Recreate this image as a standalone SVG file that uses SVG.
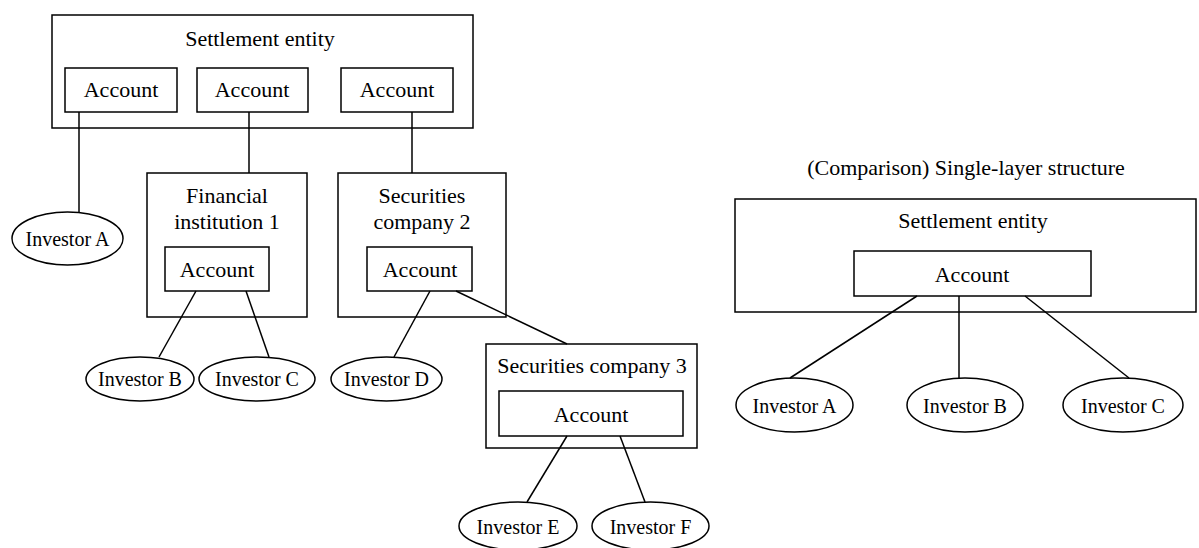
<svg xmlns="http://www.w3.org/2000/svg" width="1199" height="548" viewBox="0 0 1199 548">
<style>
.box{fill:#fff;stroke:#000;stroke-width:1.5}
ellipse{fill:#fff;stroke:#000;stroke-width:1.5}
line{stroke:#000;stroke-width:1.5}
text{font-family:"Liberation Serif","Times New Roman",serif;font-size:22px;fill:#000;text-anchor:middle}
text.inv{font-size:20px}
</style>
<rect width="1199" height="548" fill="#fff"/>
<g id="settlement">
<rect class="box" x="52" y="15" width="421" height="113"/>
<text x="260" y="46">Settlement entity</text>
</g>
<g id="acc1"><rect class="box" x="65" y="68" width="112" height="44"/><text x="121" y="97">Account</text></g>
<g id="acc2"><rect class="box" x="197" y="68" width="111" height="44"/><text x="252" y="97">Account</text></g>
<g id="acc3"><rect class="box" x="341" y="68" width="112" height="44"/><text x="397" y="97">Account</text></g>
<g id="fin1">
<rect class="box" x="147" y="173" width="160" height="144"/>
<text x="227" y="203">Financial</text>
<text x="227" y="229">institution 1</text>
<rect class="box" x="165" y="247" width="104" height="44"/>
<text x="217" y="277">Account</text>
</g>
<g id="sec2">
<rect class="box" x="338" y="173" width="168" height="144"/>
<text x="422" y="203">Securities</text>
<text x="422" y="229">company 2</text>
<rect class="box" x="367" y="247" width="105" height="44"/>
<text x="420" y="277">Account</text>
</g>
<g id="sec3">
<rect class="box" x="486" y="344" width="211" height="104"/>
<text x="592" y="373">Securities company 3</text>
<rect class="box" x="499" y="391" width="184" height="45"/>
<text x="591" y="422">Account</text>
</g>
<g id="invA"><ellipse cx="67.5" cy="238.5" rx="55.5" ry="26.5"/><text class="inv" x="67.5" y="246">Investor A</text></g>
<g id="invB"><ellipse cx="140" cy="379" rx="54" ry="22"/><text class="inv" x="140" y="386">Investor B</text></g>
<g id="invC"><ellipse cx="257" cy="379" rx="58" ry="22"/><text class="inv" x="257" y="386">Investor C</text></g>
<g id="invD"><ellipse cx="386.5" cy="379" rx="55.5" ry="22"/><text class="inv" x="386.5" y="386">Investor D</text></g>
<g id="invE"><ellipse cx="518" cy="526" rx="59" ry="24"/><text class="inv" x="518" y="534">Investor E</text></g>
<g id="invF"><ellipse cx="650.5" cy="526" rx="58.5" ry="24"/><text class="inv" x="650.5" y="534">Investor F</text></g>
<g id="title"><text x="966" y="175">(Comparison) Single-layer structure</text></g>
<g id="settlement2">
<rect class="box" x="735" y="199" width="461" height="113"/>
<text x="973" y="228">Settlement entity</text>
<rect class="box" x="854" y="251" width="237" height="45"/>
<text x="972" y="282">Account</text>
</g>
<g id="invA2"><ellipse cx="794.5" cy="405" rx="58.5" ry="27"/><text class="inv" x="794.5" y="413">Investor A</text></g>
<g id="invB2"><ellipse cx="965" cy="405" rx="58" ry="27"/><text class="inv" x="965" y="413">Investor B</text></g>
<g id="invC2"><ellipse cx="1123" cy="405" rx="60" ry="27"/><text class="inv" x="1123" y="413">Investor C</text></g>
<g id="connectors">
<line x1="79" y1="112" x2="79" y2="212"/>
<line x1="249" y1="112" x2="249" y2="173"/>
<line x1="412" y1="112" x2="412" y2="173"/>
<line x1="196" y1="291" x2="159" y2="357"/>
<line x1="246" y1="291" x2="269" y2="357"/>
<line x1="430" y1="291" x2="394" y2="357"/>
<line x1="456" y1="291" x2="567" y2="344"/>
<line x1="567" y1="436" x2="527" y2="502"/>
<line x1="620" y1="436" x2="645" y2="502"/>
<line x1="917" y1="296" x2="790" y2="378"/>
<line x1="959" y1="296" x2="959" y2="378"/>
<line x1="1025" y1="296" x2="1129" y2="378"/>
</g>
</svg>
